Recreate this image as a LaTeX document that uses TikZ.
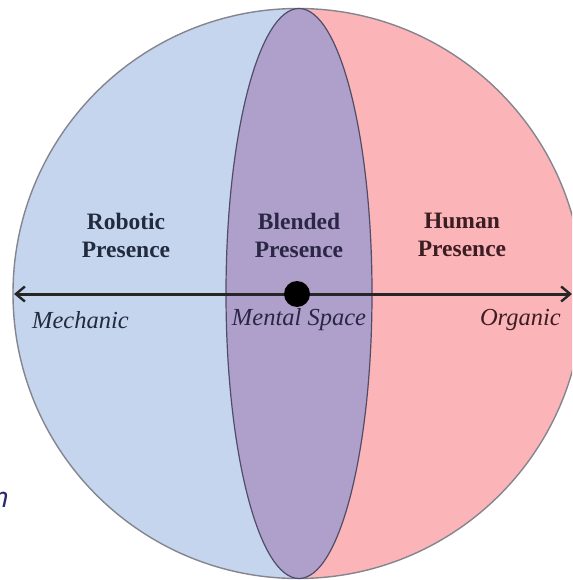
\documentclass[tikz,border=0pt]{standalone}
\usepackage{fontspec}
\setmainfont{Liberation Serif}
\newfontfamily\strayfont{Open Sans}
\usetikzlibrary{arrows.meta}
\definecolor{cblue}{HTML}{C5D5EE}
\definecolor{cpink}{HTML}{FBB4B7}
\definecolor{cpurple}{HTML}{AEA0CB}
\definecolor{cedge}{HTML}{85858F}
\definecolor{eedge}{HTML}{4F4D68}
\definecolor{tnavy}{HTML}{222A3E}
\definecolor{tpurp}{HTML}{2A2644}
\definecolor{tmaroon}{HTML}{3C1E22}
\definecolor{strayc}{HTML}{2B2A70}
\tikzset{
  head/.style={font=\fontsize{23.5}{28}\selectfont\bfseries, align=center, inner sep=0pt},
  axislabel/.style={font=\fontsize{24.5}{28}\selectfont\itshape, inner sep=0pt},
  axisline/.style={line width=3pt, draw=black!85, {Straight Barb[length=9pt,width=15pt,line width=2.4pt]}-{Straight Barb[length=9pt,width=15pt,line width=2.4pt]}},
}
\begin{document}
\begin{tikzpicture}[x=1pt,y=-1pt]
\useasboundingbox (0,0) rectangle (572,580);
\fill[white] (0,0) rectangle (572,580);
\begin{scope}
\clip (0,0) rectangle (572,580);
% halves of the circle
\begin{scope}
\clip (298,293.5) circle[radius=285];
\fill[cblue] (0,0) rectangle (299,580);
\fill[cpink] (299,0) rectangle (600,580);
\end{scope}
\draw[cedge, line width=1.4pt] (298,293.5) circle[radius=285];
% blended ellipse
\draw[eedge, line width=1.2pt, fill=cpurple] (299,293.5) ellipse[x radius=73, y radius=285];
\end{scope}
% texts
\node[head, text=tnavy] (robotic) at (126,235) {Robotic\\Presence};
\node[head, text=tpurp] (blended) at (299,235) {Blended\\Presence};
\node[head, text=tmaroon] (human) at (462,235) {Human\\Presence};
% axis
\coordinate (L) at (14,294);
\coordinate (R) at (572,294);
\draw[axisline] (L) -- (R);
\node[circle, fill=black, minimum size=26pt, inner sep=0pt] (dot) at (297,294) {};
\node[axislabel, text=tnavy, anchor=west] (mech) at (32,320) {Mechanic};
\node[axislabel, text=tpurp] (mental) at (299,320) {Mental Space};
\node[axislabel, text=tmaroon, anchor=east] (org) at (561,320) {Organic};
% stray letter at left edge
\node[font=\strayfont\itshape\fontsize{28}{30}\selectfont, text=strayc, anchor=base east, inner sep=0pt] (stray) at (9,507) {n};
\end{tikzpicture}
\end{document}
